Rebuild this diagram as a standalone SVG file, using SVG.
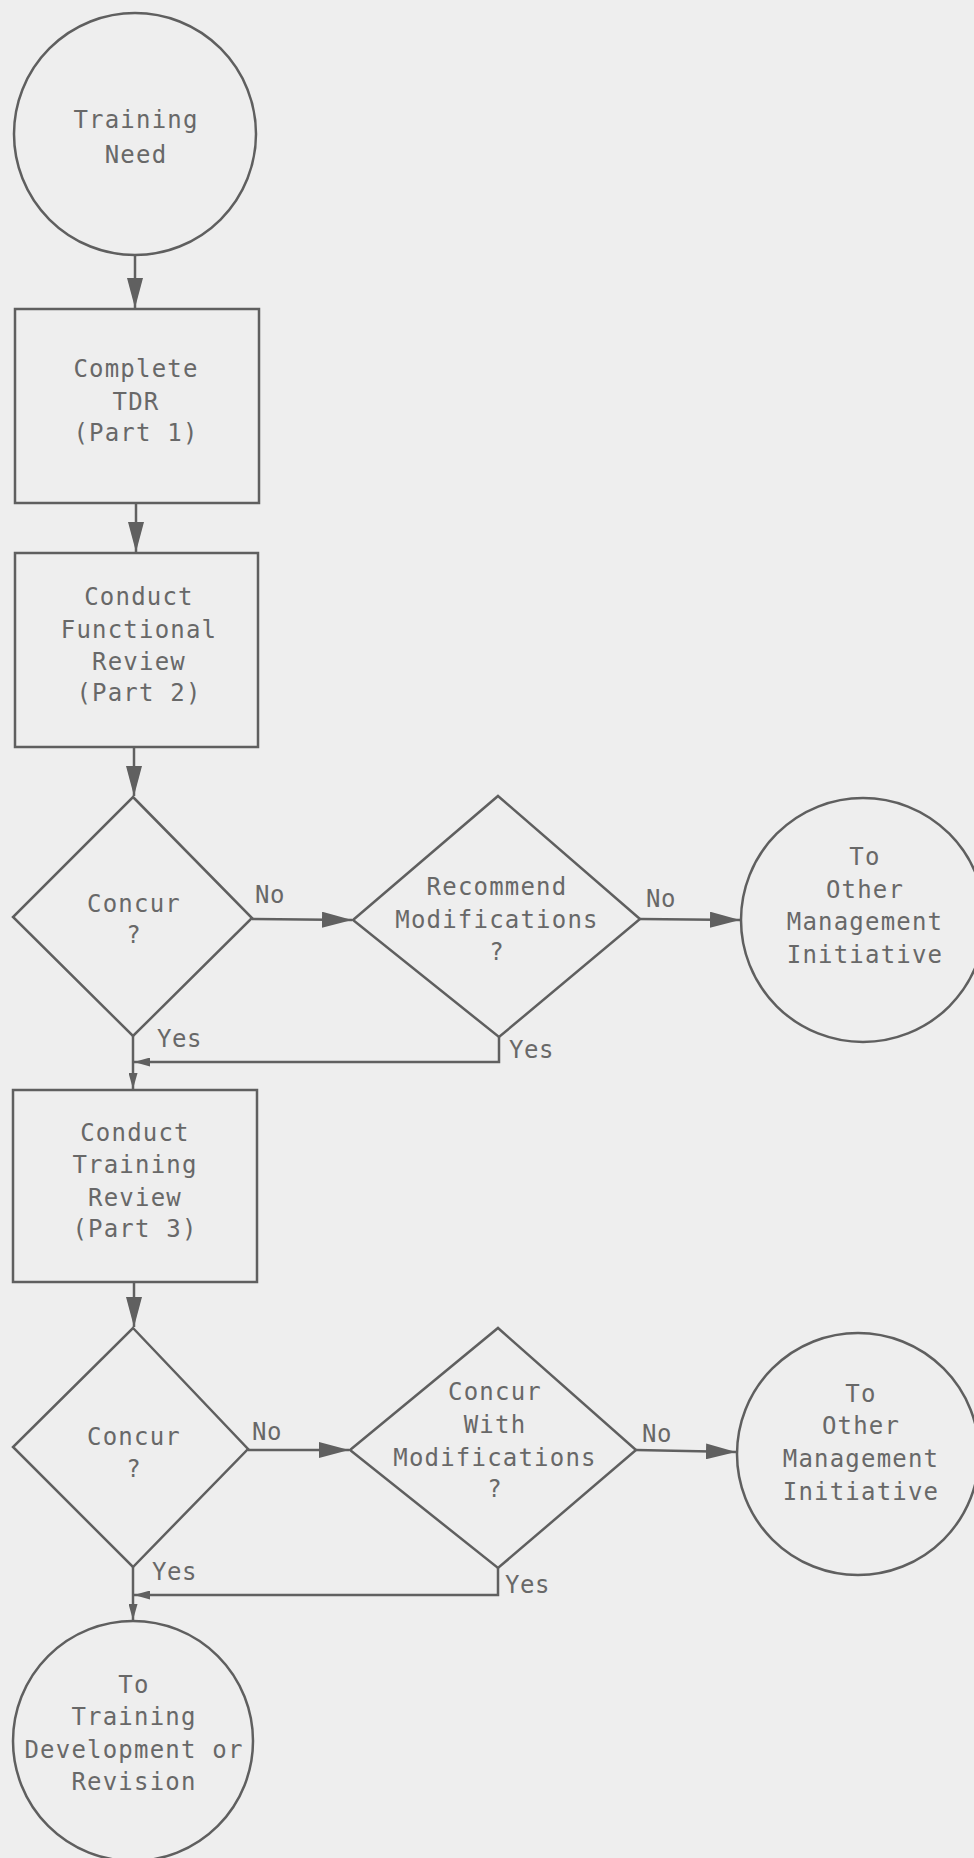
<svg xmlns="http://www.w3.org/2000/svg" width="974" height="1858" viewBox="0 0 974 1858">
<defs>
<style>
.shape{fill:none;stroke:#5f5f5f;stroke-width:2.5}
.conn{fill:none;stroke:#606060;stroke-width:2.5}
.t{font-family:"DejaVu Sans Mono","Liberation Mono",monospace;font-size:24px;letter-spacing:1.2px;fill:#686868;text-anchor:middle}
.l{font-family:"DejaVu Sans Mono","Liberation Mono",monospace;font-size:24px;letter-spacing:0.5px;fill:#686868}
</style>
<marker id="big" markerUnits="userSpaceOnUse" markerWidth="30" markerHeight="16" refX="30" refY="8" orient="auto">
<path d="M0,0 L30,8 L0,16 Z" fill="#606060"/>
</marker>
<marker id="small" markerUnits="userSpaceOnUse" markerWidth="16" markerHeight="9" refX="16" refY="4.5" orient="auto">
<path d="M0,0 L16,4.5 L0,9 Z" fill="#606060"/>
</marker>
</defs>
<rect x="0" y="0" width="974" height="1858" fill="#eeeeee"/>

<g id="connectors">
<line class="conn" x1="135" y1="256" x2="135" y2="308" marker-end="url(#big)"/>
<line class="conn" x1="136" y1="504" x2="136" y2="552" marker-end="url(#big)"/>
<line class="conn" x1="134" y1="748" x2="134" y2="796" marker-end="url(#big)"/>
<line class="conn" x1="252" y1="919" x2="352" y2="920" marker-end="url(#big)"/>
<line class="conn" x1="640" y1="919" x2="740" y2="920" marker-end="url(#big)"/>
<polyline class="conn" points="499,1037 499,1062 134,1062" marker-end="url(#small)"/>
<line class="conn" x1="133" y1="1036" x2="133" y2="1089" marker-end="url(#small)"/>
<line class="conn" x1="134" y1="1283" x2="134" y2="1327" marker-end="url(#big)"/>
<line class="conn" x1="248" y1="1450" x2="349" y2="1450" marker-end="url(#big)"/>
<line class="conn" x1="636" y1="1450" x2="736" y2="1452" marker-end="url(#big)"/>
<polyline class="conn" points="498,1568 498,1595 134,1595" marker-end="url(#small)"/>
<line class="conn" x1="133" y1="1567" x2="133" y2="1620" marker-end="url(#small)"/>
<text class="l" x="255" y="903">No</text>
<text class="l" x="646" y="907">No</text>
<text class="l" x="157" y="1047">Yes</text>
<text class="l" x="509" y="1058">Yes</text>
<text class="l" x="252" y="1440">No</text>
<text class="l" x="642" y="1442">No</text>
<text class="l" x="152" y="1580">Yes</text>
<text class="l" x="505" y="1593">Yes</text>
</g>

<g id="training-need">
<circle class="shape" cx="135" cy="134" r="121"/>
<text class="t" x="136" y="128">Training</text>
<text class="t" x="136" y="163">Need</text>
</g>

<g id="complete-tdr">
<rect class="shape" x="15" y="309" width="244" height="194"/>
<text class="t" x="136" y="377">Complete</text>
<text class="t" x="136" y="410">TDR</text>
<text class="t" x="136" y="441">(Part 1)</text>
</g>

<g id="functional-review">
<rect class="shape" x="15" y="553" width="243" height="194"/>
<text class="t" x="139" y="605">Conduct</text>
<text class="t" x="139" y="638">Functional</text>
<text class="t" x="139" y="670">Review</text>
<text class="t" x="139" y="701">(Part 2)</text>
</g>

<g id="concur-1">
<polygon class="shape" points="133,797 252,918 133,1036 13,917"/>
<text class="t" x="134" y="912">Concur</text>
<text class="t" x="134" y="943">?</text>
</g>

<g id="recommend-mods">
<polygon class="shape" points="498,796 640,919 499,1037 353,920"/>
<text class="t" x="497" y="895">Recommend</text>
<text class="t" x="497" y="928">Modifications</text>
<text class="t" x="497" y="960">?</text>
</g>

<g id="other-mgmt-1">
<circle class="shape" cx="863" cy="920" r="122"/>
<text class="t" x="865" y="865">To</text>
<text class="t" x="865" y="898">Other</text>
<text class="t" x="865" y="930">Management</text>
<text class="t" x="865" y="963">Initiative</text>
</g>

<g id="training-review">
<rect class="shape" x="13" y="1090" width="244" height="192"/>
<text class="t" x="135" y="1141">Conduct</text>
<text class="t" x="135" y="1173">Training</text>
<text class="t" x="135" y="1206">Review</text>
<text class="t" x="135" y="1237">(Part 3)</text>
</g>

<g id="concur-2">
<polygon class="shape" points="133,1328 248,1449 133,1567 13,1447"/>
<text class="t" x="134" y="1445">Concur</text>
<text class="t" x="134" y="1477">?</text>
</g>

<g id="concur-with-mods">
<polygon class="shape" points="498,1328 636,1450 498,1568 350,1450"/>
<text class="t" x="495" y="1400">Concur</text>
<text class="t" x="495" y="1433">With</text>
<text class="t" x="495" y="1466">Modifications</text>
<text class="t" x="495" y="1497">?</text>
</g>

<g id="other-mgmt-2">
<circle class="shape" cx="858" cy="1454" r="121"/>
<text class="t" x="861" y="1402">To</text>
<text class="t" x="861" y="1434">Other</text>
<text class="t" x="861" y="1467">Management</text>
<text class="t" x="861" y="1500">Initiative</text>
</g>

<g id="training-development">
<circle class="shape" cx="133" cy="1741" r="120"/>
<text class="t" x="134" y="1693">To</text>
<text class="t" x="134" y="1725">Training</text>
<text class="t" x="134" y="1758">Development or</text>
<text class="t" x="134" y="1790">Revision</text>
</g>
</svg>
